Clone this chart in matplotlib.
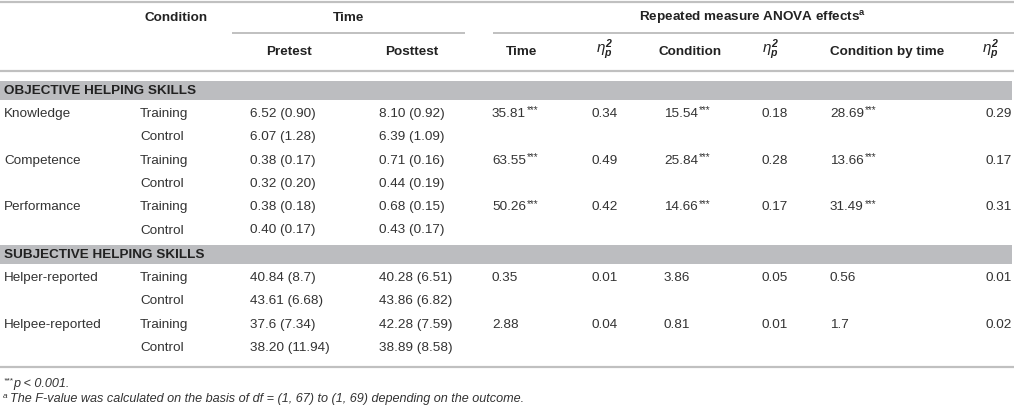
import matplotlib
matplotlib.use("Agg")
import matplotlib.pyplot as plt

plt.rcParams['font.family'] = ['Liberation Sans', 'DejaVu Sans']
plt.rcParams['mathtext.fontset'] = 'custom'
plt.rcParams['mathtext.rm'] = 'Liberation Sans'
plt.rcParams['mathtext.it'] = 'Liberation Sans:italic'
plt.rcParams['mathtext.bf'] = 'Liberation Sans:bold:italic'
plt.rcParams['mathtext.sf'] = 'Liberation Sans:bold'

# ---- data ----
sections = ["OBJECTIVE HELPING SKILLS", "SUBJECTIVE HELPING SKILLS"]
measures = ["Knowledge", "Competence", "Performance", "Helper-reported", "Helpee-reported"]
measure_section = [0, 0, 0, 1, 1]
conditions = ["Training", "Control"]
pretest = [["6.52 (0.90)", "6.07 (1.28)"], ["0.38 (0.17)", "0.32 (0.20)"],
           ["0.38 (0.18)", "0.40 (0.17)"], ["40.84 (8.7)", "43.61 (6.68)"],
           ["37.6 (7.34)", "38.20 (11.94)"]]
posttest = [["8.10 (0.92)", "6.39 (1.09)"], ["0.71 (0.16)", "0.44 (0.19)"],
            ["0.68 (0.15)", "0.43 (0.17)"], ["40.28 (6.51)", "43.86 (6.82)"],
            ["42.28 (7.59)", "38.89 (8.58)"]]
time_F = ["35.81", "63.55", "50.26", "0.35", "2.88"]
time_sig = ["***", "***", "***", "", ""]
time_eta = ["0.34", "0.49", "0.42", "0.01", "0.04"]
cond_F = ["15.54", "25.84", "14.66", "3.86", "0.81"]
cond_sig = ["***", "***", "***", "", ""]
cond_eta = ["0.18", "0.28", "0.17", "0.05", "0.01"]
cbt_F = ["28.69", "13.66", "31.49", "0.56", "1.7"]
cbt_sig = ["***", "***", "***", "", ""]
cbt_eta = ["0.29", "0.17", "0.31", "0.01", "0.02"]

header_top = ["Condition", "Time", "Repeated measure ANOVA effects"]
ETA = r"$\eta_{\mathbf{p}}^{\mathbf{2}}$"
header_sub = ["Pretest", "Posttest", "Time", ETA, "Condition", ETA, "Condition by time", ETA]
foot1 = "p < 0.001."
foot2 = "The F-value was calculated on the basis of df = (1, 67) to (1, 69) depending on the outcome."

# ---- layout ----
W, H = 1014, 408
fig = plt.figure(figsize=(W / 100, H / 100), dpi=100)
ax = fig.add_axes([0, 0, 1, 1])
ax.set_xlim(0, W)
ax.set_ylim(H, 0)
ax.axis('off')

TXT = '#333333'
HDR = '#222222'
LINE = '#c0c0c0'
BAND = '#bcbdc0'
FS = 9.7

def hline(y, x0=0, x1=W, lw=1.6):
    ax.plot([x0, x1], [y, y], color=LINE, lw=lw, solid_capstyle='butt')

hline(1.5)
hline(33, 232, 465, 1.4)
hline(33, 493, W, 1.4)
hline(71)
hline(367)

# headers
ax.text(176, 18, header_top[0], ha='center', va='center', fontsize=FS, fontweight='bold', color=HDR)
ax.text(349, 18, header_top[1], ha='center', va='center', fontsize=FS, fontweight='bold', color=HDR)
ax.text(753, 18, header_top[2] + r"$^{\mathsf{a}}$", ha='center', va='center', fontsize=FS,
        fontweight='bold', color=HDR)
sub_x = [289, 412, 522, 604, 690, 770, 887, 990]
for x, t in zip(sub_x, header_sub):
    if t.startswith('$'):
        ax.text(x, 50, t, ha='center', va='center', fontsize=FS * 1.12, color=HDR)
    else:
        ax.text(x, 52, t, ha='center', va='center', fontsize=FS, fontweight='bold', color=HDR)

col_label = 4
col_cond = 140
col_pre = 250
col_post = 379
col_tF = 492
col_te = 591
col_cF = 664
col_ce = 762
col_bF = 830
col_be = 985

fig.canvas.draw()
rend = fig.canvas.get_renderer()

def value_with_sig(x, y, val, sig):
    t = ax.text(x, y, val, ha='left', va='center', fontsize=FS, color=TXT)
    if sig:
        bb = t.get_window_extent(rend)
        ax.annotate(sig, xy=(x, y), xycoords='data', xytext=(bb.width * 72 / 100 + 0.6, 2.6),
                    textcoords='offset points', ha='left', va='center', fontsize=FS * 0.72, color=TXT)

band_y = [(81, 100), (245, 264)]
row_start = [114, 278]
row_step = 23.3
for s, (b0, b1) in enumerate(band_y):
    ax.fill_between([0, 1012], b0, b1, color=BAND, lw=0)
    ax.text(col_label, (b0 + b1) / 2 + 0.5, sections[s], ha='left', va='center', fontsize=FS,
            fontweight='bold', color=HDR)
    idx = [i for i, m in enumerate(measure_section) if m == s]
    for k, i in enumerate(idx):
        for c in range(2):
            y = row_start[s] + (2 * k + c) * row_step
            if c == 0:
                ax.text(col_label, y, measures[i], ha='left', va='center', fontsize=FS, color=TXT)
                value_with_sig(col_tF, y, time_F[i], time_sig[i])
                ax.text(col_te, y, time_eta[i], ha='left', va='center', fontsize=FS, color=TXT)
                value_with_sig(col_cF, y, cond_F[i], cond_sig[i])
                ax.text(col_ce, y, cond_eta[i], ha='left', va='center', fontsize=FS, color=TXT)
                value_with_sig(col_bF, y, cbt_F[i], cbt_sig[i])
                ax.text(col_be, y, cbt_eta[i], ha='left', va='center', fontsize=FS, color=TXT)
            ax.text(col_cond, y, conditions[c], ha='left', va='center', fontsize=FS, color=TXT)
            ax.text(col_pre, y, pretest[i][c], ha='left', va='center', fontsize=FS, color=TXT)
            ax.text(col_post, y, posttest[i][c], ha='left', va='center', fontsize=FS, color=TXT)

# footnotes
FFS = 9.1
ax.text(4, 381, "***", ha='left', va='center', fontsize=FFS * 0.65, color=TXT, style='italic')
ax.text(13, 384, foot1, ha='left', va='center', fontsize=FFS, color=TXT, style='italic')
ax.text(3, 396, "a", ha='left', va='center', fontsize=FFS * 0.65, color=TXT, style='italic')
ax.text(10, 399, foot2, ha='left', va='center', fontsize=FFS, color=TXT, style='italic')

fig.savefig('out.png', dpi=100)
